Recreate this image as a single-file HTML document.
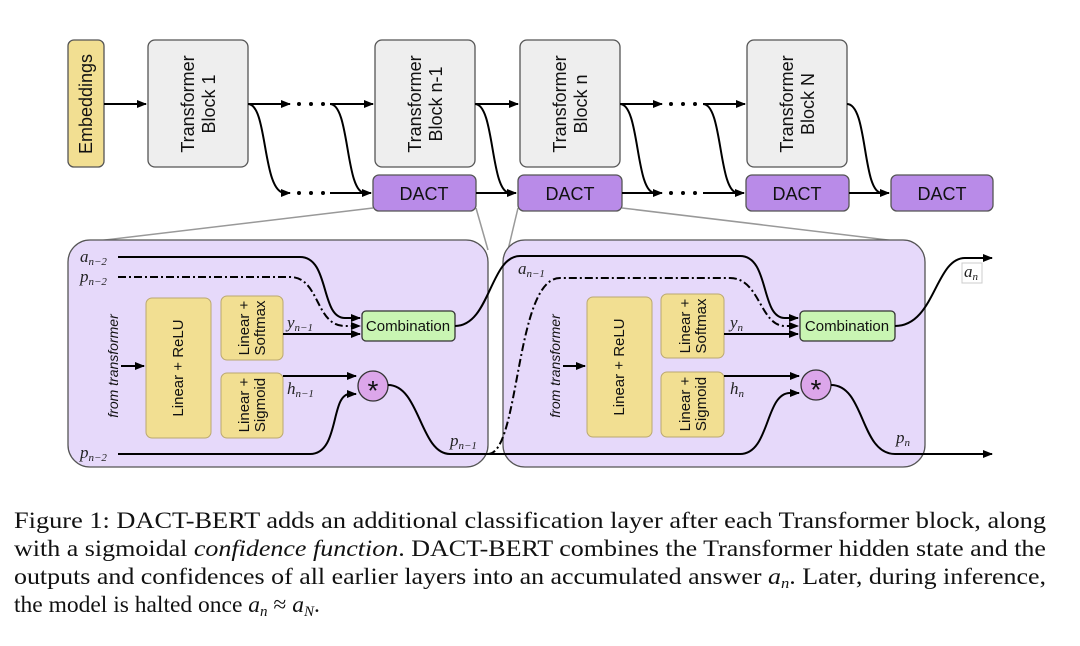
<!DOCTYPE html>
<html><head><meta charset="utf-8"><style>
body{margin:0;background:#fff}
svg{display:block}
.s{font-family:"Liberation Sans",sans-serif;fill:#111}
.m{font-family:"Liberation Serif",serif;font-style:italic;fill:#222}
.c{font-family:"Liberation Serif",serif;font-size:23.5px;fill:#111}
</style></head><body>
<svg width="1080" height="646" viewBox="0 0 1080 646">
<defs><marker id="a" markerWidth="10" markerHeight="10" refX="9" refY="5" orient="auto" markerUnits="userSpaceOnUse"><path d="M0,1 L10,5 L0,9 z" fill="#000"/></marker></defs>
<g stroke="#999" stroke-width="1.5" fill="none">
<line x1="373" y1="208" x2="80" y2="243"/><line x1="476" y1="208" x2="488" y2="250"/>
<line x1="518" y1="208" x2="508" y2="250"/><line x1="622" y1="208" x2="905" y2="242"/>
</g>
<rect x="68" y="240" width="420" height="227" rx="22" fill="#e6d9fa" stroke="#555" stroke-width="1.3"/>
<rect x="503" y="240" width="422" height="227" rx="22" fill="#e6d9fa" stroke="#555" stroke-width="1.3"/>
<g stroke="#555" stroke-width="1.3">
<rect x="68" y="40" width="36" height="127" rx="6" fill="#f2df92"/>
<rect x="148" y="40" width="100" height="127" rx="7" fill="#eeeeee"/>
<rect x="375" y="40" width="100" height="127" rx="7" fill="#eeeeee"/>
<rect x="520" y="40" width="100" height="127" rx="7" fill="#eeeeee"/>
<rect x="747" y="40" width="100" height="127" rx="7" fill="#eeeeee"/>
<g fill="#b98be8">
<rect x="373" y="175" width="103" height="36" rx="6"/>
<rect x="518" y="175" width="104" height="36" rx="6"/>
<rect x="746" y="175" width="103" height="36" rx="6"/>
<rect x="891" y="175" width="102" height="36" rx="6"/>
</g></g>
<g class="s" font-size="18" text-anchor="middle">
<text transform="translate(92,104) rotate(-90)">Embeddings</text>
<text transform="translate(198,104) rotate(-90)"><tspan x="0" y="-4">Transformer</tspan><tspan x="0" y="17">Block 1</tspan></text>
<text transform="translate(425,104) rotate(-90)"><tspan x="0" y="-4">Transformer</tspan><tspan x="0" y="17">Block n-1</tspan></text>
<text transform="translate(570,104) rotate(-90)"><tspan x="0" y="-4">Transformer</tspan><tspan x="0" y="17">Block n</tspan></text>
<text transform="translate(797,104) rotate(-90)"><tspan x="0" y="-4">Transformer</tspan><tspan x="0" y="17">Block N</tspan></text>
<text x="424" y="200">DACT</text><text x="570" y="200">DACT</text><text x="797" y="200">DACT</text><text x="942" y="200">DACT</text>
</g>
<g stroke="#000" stroke-width="2" fill="none">
<line x1="104" y1="104" x2="146" y2="104" marker-end="url(#a)"/>
<line x1="248" y1="104" x2="290" y2="104" marker-end="url(#a)"/>
<path d="M248,104 C268,104 262,193 285,193 L290,193" marker-end="url(#a)"/>
<line x1="330" y1="104" x2="373" y2="104" marker-end="url(#a)"/>
<path d="M330,104 C350,104 345,193 365,193 L371,193" marker-end="url(#a)"/>
<line x1="330" y1="193" x2="371" y2="193"/>
<line x1="475" y1="104" x2="518" y2="104" marker-end="url(#a)"/>
<path d="M475,104 C495,104 490,193 510,193 L516,193" marker-end="url(#a)"/>
<line x1="476" y1="193" x2="516" y2="193"/>
<line x1="620" y1="104" x2="662" y2="104" marker-end="url(#a)"/>
<path d="M620,104 C640,104 635,193 655,193 L662,193" marker-end="url(#a)"/>
<line x1="622" y1="193" x2="662" y2="193"/>
<line x1="703" y1="104" x2="745" y2="104" marker-end="url(#a)"/>
<path d="M703,104 C723,104 718,193 738,193 L744,193" marker-end="url(#a)"/>
<line x1="703" y1="193" x2="744" y2="193"/>
<path d="M847,104 C868,104 862,193 882,193 L889,193" marker-end="url(#a)"/>
<line x1="849" y1="193" x2="889" y2="193"/>
</g>
<g fill="#000">
<circle cx="299" cy="104" r="2"/><circle cx="311" cy="104" r="2"/><circle cx="323" cy="104" r="2"/>
<circle cx="299" cy="193" r="2"/><circle cx="311" cy="193" r="2"/><circle cx="323" cy="193" r="2"/>
<circle cx="671" cy="104" r="2"/><circle cx="683" cy="104" r="2"/><circle cx="695" cy="104" r="2"/>
<circle cx="671" cy="193" r="2"/><circle cx="683" cy="193" r="2"/><circle cx="695" cy="193" r="2"/>
</g>
<g stroke="#bba870" stroke-width="1" fill="#f2df92">
<rect x="146" y="298" width="65" height="140" rx="6"/>
<rect x="221" y="296" width="62" height="64" rx="6"/>
<rect x="221" y="373" width="62" height="65" rx="6"/>
<rect x="587" y="297" width="65" height="140" rx="6"/>
<rect x="661" y="294" width="63" height="64" rx="6"/>
<rect x="661" y="372" width="63" height="65" rx="6"/>
</g>
<g stroke="#333" stroke-width="1.3">
<rect x="362" y="311" width="93" height="30" rx="4" fill="#c9f5b3"/>
<rect x="800" y="311" width="95" height="30" rx="4" fill="#c9f5b3"/>
<circle cx="373" cy="386" r="15" fill="#dca6ea"/>
<circle cx="816" cy="385" r="15" fill="#dca6ea"/>
</g>
<g class="s" font-size="15" text-anchor="middle">
<text transform="translate(183,368) rotate(-90)">Linear + ReLU</text>
<text transform="translate(252,328) rotate(-90)"><tspan x="0" y="-3">Linear +</tspan><tspan x="0" y="13">Softmax</tspan></text>
<text transform="translate(252,405) rotate(-90)"><tspan x="0" y="-3">Linear +</tspan><tspan x="0" y="13">Sigmoid</tspan></text>
<text transform="translate(624,367) rotate(-90)">Linear + ReLU</text>
<text transform="translate(693,326) rotate(-90)"><tspan x="0" y="-3">Linear +</tspan><tspan x="0" y="13">Softmax</tspan></text>
<text transform="translate(693,404) rotate(-90)"><tspan x="0" y="-3">Linear +</tspan><tspan x="0" y="13">Sigmoid</tspan></text>
<text x="408" y="331">Combination</text><text x="847" y="331">Combination</text>
<text transform="translate(118,366) rotate(-90)" font-style="italic" font-size="14">from transformer</text>
<text transform="translate(560,366) rotate(-90)" font-style="italic" font-size="14">from transformer</text>
<text x="373" y="400" font-size="28">*</text><text x="816" y="399" font-size="28">*</text>
</g>
<g stroke="#000" stroke-width="2" fill="none">
<line x1="121" y1="366" x2="144" y2="366" marker-end="url(#a)"/>
<line x1="563" y1="366" x2="585" y2="366" marker-end="url(#a)"/>
<path d="M118,257 L300,257 C330,257 320,318 345,318 L360,318" marker-end="url(#a)"/>
<path d="M118,277 L290,277 C320,277 315,326 345,326 L360,326" stroke-dasharray="8,3,2,3" marker-end="url(#a)"/>
<line x1="283" y1="334" x2="360" y2="334" marker-end="url(#a)"/>
<line x1="283" y1="376" x2="356" y2="376" marker-end="url(#a)"/>
<path d="M118,454 L310,454 C340,454 330,394 350,394 L356,394" marker-end="url(#a)"/>
<path d="M388,385 C420,385 420,454 450,454 L500,454"/>
<path d="M455,326 C490,326 490,256 520,256 L740,256 C770,256 760,318 785,318 L798,318" marker-end="url(#a)"/>
<path d="M488,454 C520,454 515,278 560,278 L730,278 C760,278 760,326 785,326 L798,326" stroke-dasharray="8,3,2,3" marker-end="url(#a)"/>
<line x1="724" y1="334" x2="798" y2="334" marker-end="url(#a)"/>
<line x1="724" y1="376" x2="799" y2="376" marker-end="url(#a)"/>
<path d="M500,454 L740,454 C770,454 765,393 790,393 L799,393" marker-end="url(#a)"/>
<path d="M831,385 C865,385 860,454 895,454 L992,454" marker-end="url(#a)"/>
<path d="M895,326 C935,326 935,258 965,258 L992,258" marker-end="url(#a)"/>
</g>
<rect x="962" y="263" width="20" height="20" fill="#fff" stroke="#ccc" stroke-width="1"/>
<g class="m" font-size="17">
<text x="80" y="262">a<tspan font-size="11" dy="3">n−2</tspan></text>
<text x="80" y="282">p<tspan font-size="11" dy="3">n−2</tspan></text>
<text x="80" y="458">p<tspan font-size="11" dy="3">n−2</tspan></text>
<text x="287" y="328">y<tspan font-size="11" dy="3">n−1</tspan></text>
<text x="287" y="394">h<tspan font-size="11" dy="3">n−1</tspan></text>
<text x="450" y="446">p<tspan font-size="11" dy="3">n−1</tspan></text>
<text x="518" y="274">a<tspan font-size="11" dy="3">n−1</tspan></text>
<text x="730" y="328">y<tspan font-size="11" dy="3">n</tspan></text>
<text x="730" y="394">h<tspan font-size="11" dy="3">n</tspan></text>
<text x="896" y="443">p<tspan font-size="11" dy="3">n</tspan></text>
<text x="964" y="277">a<tspan font-size="11" dy="3">n</tspan></text>
</g>
<text class="c" x="14" y="528" textLength="1032" lengthAdjust="spacingAndGlyphs">Figure 1: DACT-BERT adds an additional classification layer after each Transformer block, along</text>
<text class="c" x="14" y="556" textLength="1032" lengthAdjust="spacingAndGlyphs">with a sigmoidal <tspan font-style="italic">confidence function</tspan>. DACT-BERT combines the Transformer hidden state and the</text>
<text class="c" x="14" y="584" textLength="1032" lengthAdjust="spacingAndGlyphs">outputs and confidences of all earlier layers into an accumulated answer <tspan font-style="italic">a</tspan><tspan font-style="italic" font-size="15" dy="4">n</tspan><tspan dy="-4">. Later, during inference,</tspan></text>
<text class="c" x="14" y="612">the model is halted once <tspan font-style="italic">a</tspan><tspan font-style="italic" font-size="15" dy="4">n</tspan><tspan dy="-4"> ≈ </tspan><tspan font-style="italic">a</tspan><tspan font-style="italic" font-size="15" dy="4">N</tspan><tspan dy="-4">.</tspan></text>
</svg>
</body></html>
